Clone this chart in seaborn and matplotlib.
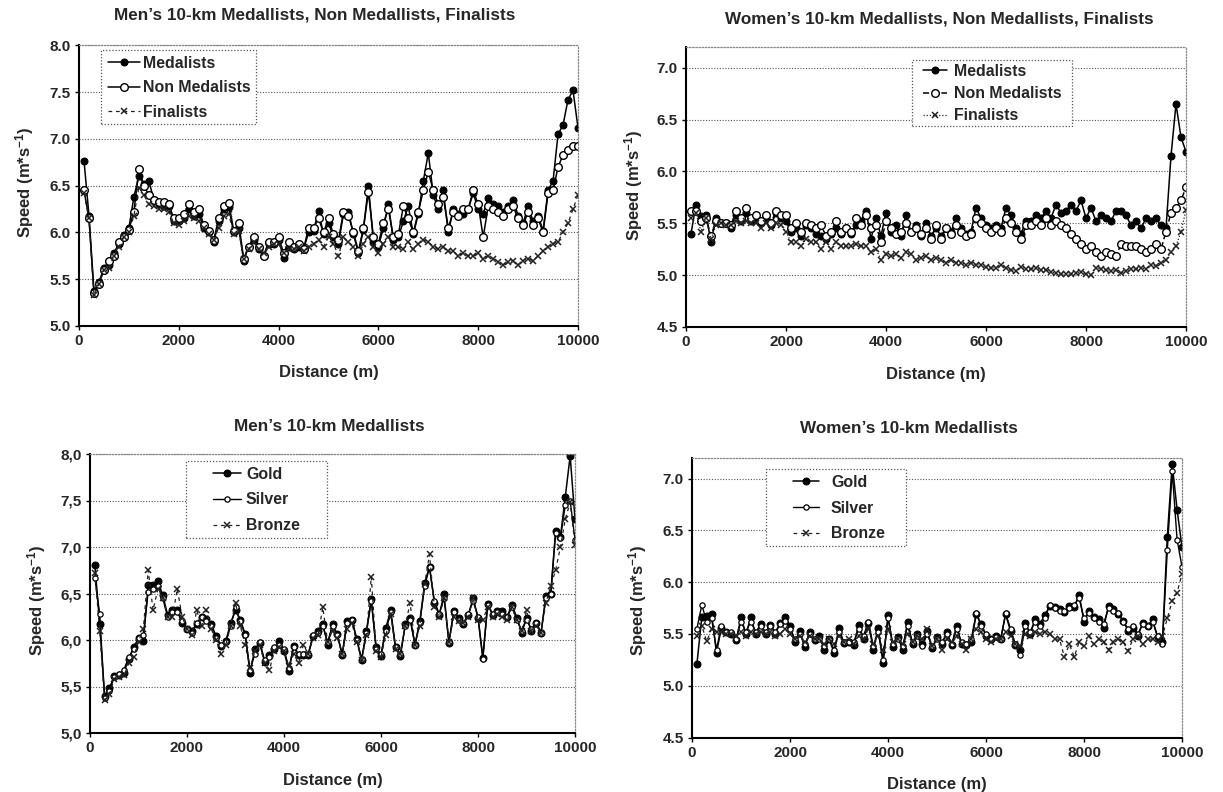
import matplotlib
matplotlib.use("Agg")
import matplotlib.pyplot as plt
from matplotlib.patches import Rectangle
import seaborn as sns

# ---------------- data ----------------
distance = list(range(100, 10001, 100))  # split distance (m)

# Men's 10 km: medallists / non medallists / finalists
men_medalists = [
    6.77, 6.18, 5.37, 5.47, 5.62, 5.65, 5.78, 5.88, 5.97, 6.05,
    6.38, 6.60, 6.52, 6.55, 6.35, 6.30, 6.28, 6.28, 6.12, 6.12,
    6.15, 6.25, 6.18, 6.20, 6.05, 6.00, 5.90, 6.12, 6.25, 6.27,
    6.00, 6.05, 5.70, 5.85, 5.92, 5.82, 5.75, 5.88, 5.88, 5.92,
    5.73, 5.85, 5.82, 5.85, 5.82, 6.00, 6.02, 6.23, 5.98, 6.10,
    5.95, 5.88, 6.20, 6.22, 5.98, 5.78, 6.03, 6.50, 5.90, 5.85,
    6.05, 6.30, 5.92, 5.95, 6.12, 6.28, 5.98, 6.20, 6.55, 6.85,
    6.40, 6.25, 6.45, 6.00, 6.25, 6.20, 6.20, 6.25, 6.42, 6.25,
    6.20, 6.37, 6.30, 6.28, 6.22, 6.28, 6.35, 6.18, 6.10, 6.28,
    6.12, 6.18, 6.02, 6.45, 6.55, 7.05, 7.15, 7.42, 7.52, 7.12]
men_non_medalists = [
    6.45, 6.15, 5.35, 5.45, 5.60, 5.70, 5.75, 5.90, 5.95, 6.03,
    6.22, 6.68, 6.50, 6.40, 6.35, 6.33, 6.33, 6.30, 6.15, 6.15,
    6.20, 6.30, 6.22, 6.25, 6.08, 6.02, 5.92, 6.15, 6.28, 6.32,
    6.02, 6.10, 5.72, 5.85, 5.95, 5.85, 5.75, 5.90, 5.90, 5.95,
    5.78, 5.90, 5.85, 5.88, 5.82, 6.05, 6.05, 6.15, 6.00, 6.15,
    5.98, 5.92, 6.22, 6.18, 6.00, 5.80, 6.05, 6.43, 5.95, 5.88,
    6.10, 6.25, 5.95, 5.98, 6.28, 6.15, 6.00, 6.22, 6.45, 6.65,
    6.45, 6.30, 6.38, 6.05, 6.22, 6.18, 6.25, 6.25, 6.45, 6.30,
    5.95, 6.28, 6.25, 6.22, 6.18, 6.25, 6.28, 6.15, 6.08, 6.22,
    6.08, 6.15, 6.00, 6.42, 6.45, 6.70, 6.83, 6.88, 6.92, 6.93]
men_finalists = [
    6.42, 6.15, 5.33, 5.45, 5.60, 5.62, 5.75, 5.85, 5.95, 6.00,
    6.18, 6.48, 6.40, 6.30, 6.28, 6.25, 6.25, 6.22, 6.10, 6.08,
    6.12, 6.18, 6.15, 6.12, 6.05, 5.98, 5.92, 6.05, 6.18, 6.20,
    5.98, 6.02, 5.72, 5.82, 5.90, 5.82, 5.78, 5.85, 5.88, 5.88,
    5.78, 5.82, 5.82, 5.85, 5.80, 5.85, 5.88, 5.92, 5.85, 5.95,
    5.88, 5.75, 5.95, 5.90, 5.85, 5.75, 5.88, 5.95, 5.85, 5.78,
    5.88, 5.95, 5.85, 5.85, 5.82, 5.90, 5.82, 5.88, 5.92, 5.90,
    5.85, 5.82, 5.85, 5.80, 5.80, 5.75, 5.78, 5.75, 5.75, 5.78,
    5.72, 5.75, 5.72, 5.68, 5.65, 5.68, 5.70, 5.65, 5.70, 5.72,
    5.70, 5.75, 5.80, 5.85, 5.88, 5.90, 6.00, 6.10, 6.25, 6.40]

# Women's 10 km: medallists / non medallists / finalists
women_medalists = [
    5.40, 5.68, 5.57, 5.58, 5.32, 5.55, 5.50, 5.50, 5.45, 5.58,
    5.52, 5.60, 5.52, 5.55, 5.50, 5.55, 5.48, 5.60, 5.55, 5.52,
    5.42, 5.45, 5.38, 5.48, 5.45, 5.40, 5.38, 5.35, 5.40, 5.45,
    5.40, 5.45, 5.40, 5.48, 5.52, 5.62, 5.35, 5.55, 5.38, 5.60,
    5.42, 5.48, 5.38, 5.58, 5.42, 5.48, 5.38, 5.50, 5.38, 5.45,
    5.38, 5.45, 5.42, 5.55, 5.45, 5.40, 5.42, 5.65, 5.55, 5.48,
    5.45, 5.48, 5.45, 5.65, 5.58, 5.45, 5.40, 5.52, 5.52, 5.58,
    5.55, 5.62, 5.55, 5.68, 5.60, 5.62, 5.68, 5.62, 5.72, 5.55,
    5.65, 5.52, 5.58, 5.55, 5.52, 5.62, 5.62, 5.58, 5.48, 5.52,
    5.45, 5.55, 5.52, 5.55, 5.48, 5.45, 6.15, 6.65, 6.33, 6.19]
women_non_medalists = [
    5.62, 5.62, 5.52, 5.55, 5.38, 5.52, 5.50, 5.50, 5.48, 5.62,
    5.55, 5.65, 5.55, 5.58, 5.52, 5.58, 5.50, 5.62, 5.58, 5.58,
    5.45, 5.50, 5.42, 5.50, 5.48, 5.45, 5.48, 5.38, 5.42, 5.52,
    5.42, 5.45, 5.42, 5.55, 5.48, 5.58, 5.45, 5.48, 5.32, 5.52,
    5.45, 5.40, 5.42, 5.50, 5.42, 5.45, 5.40, 5.45, 5.35, 5.48,
    5.35, 5.45, 5.40, 5.48, 5.42, 5.38, 5.40, 5.55, 5.50, 5.45,
    5.42, 5.45, 5.42, 5.55, 5.50, 5.42, 5.35, 5.48, 5.48, 5.52,
    5.48, 5.55, 5.48, 5.52, 5.48, 5.45, 5.40, 5.35, 5.30, 5.25,
    5.28, 5.22, 5.18, 5.22, 5.20, 5.18, 5.30, 5.28, 5.28, 5.28,
    5.25, 5.22, 5.25, 5.30, 5.25, 5.42, 5.60, 5.65, 5.72, 5.85]
women_finalists = [
    5.55, 5.60, 5.42, 5.55, 5.35, 5.48, 5.50, 5.48, 5.48, 5.52,
    5.50, 5.52, 5.50, 5.50, 5.45, 5.50, 5.45, 5.50, 5.48, 5.42,
    5.32, 5.32, 5.28, 5.35, 5.32, 5.32, 5.25, 5.32, 5.25, 5.32,
    5.28, 5.28, 5.28, 5.30, 5.28, 5.28, 5.22, 5.25, 5.15, 5.20,
    5.18, 5.20, 5.17, 5.22, 5.20, 5.15, 5.17, 5.18, 5.15, 5.17,
    5.15, 5.12, 5.15, 5.12, 5.12, 5.10, 5.12, 5.10, 5.10, 5.08,
    5.07, 5.07, 5.10, 5.07, 5.05, 5.04, 5.08, 5.06, 5.06, 5.07,
    5.05, 5.05, 5.03, 5.02, 5.01, 5.01, 5.01, 5.02, 5.03, 5.01,
    5.00, 5.07, 5.06, 5.05, 5.04, 5.05, 5.02, 5.04, 5.06, 5.06,
    5.07, 5.06, 5.10, 5.09, 5.12, 5.15, 5.22, 5.28, 5.42, 5.63]

# Men's 10 km medallists
men_gold = [
    6.81, 6.17, 5.40, 5.48, 5.61, 5.62, 5.65, 5.80, 5.92, 6.02,
    5.99, 6.59, 6.59, 6.63, 6.48, 6.27, 6.32, 6.32, 6.18, 6.12,
    6.10, 6.17, 6.25, 6.23, 6.17, 6.04, 5.94, 5.99, 6.18, 6.32,
    6.22, 6.06, 5.65, 5.90, 5.97, 5.76, 5.84, 5.90, 5.99, 5.88,
    5.67, 5.94, 5.84, 5.84, 5.84, 6.04, 6.10, 6.17, 5.95, 6.17,
    6.06, 5.84, 6.20, 6.22, 6.01, 5.78, 6.10, 6.44, 5.92, 5.83,
    6.13, 6.32, 5.92, 5.83, 6.17, 6.24, 5.95, 6.20, 6.61, 6.79,
    6.40, 6.27, 6.49, 5.97, 6.31, 6.24, 6.17, 6.27, 6.45, 6.24,
    5.81, 6.39, 6.27, 6.31, 6.31, 6.25, 6.38, 6.24, 6.08, 6.24,
    6.10, 6.18, 6.08, 6.47, 6.50, 7.17, 7.11, 7.54, 7.98, 7.30]
men_silver = [
    6.67, 6.28, 5.38, 5.45, 5.60, 5.63, 5.68, 5.82, 5.90, 6.02,
    6.05, 6.52, 6.55, 6.58, 6.45, 6.25, 6.30, 6.30, 6.20, 6.12,
    6.08, 6.18, 6.25, 6.20, 6.15, 6.02, 5.95, 5.98, 6.15, 6.35,
    6.20, 6.05, 5.68, 5.85, 5.98, 5.78, 5.82, 5.92, 5.95, 5.90,
    5.70, 5.92, 5.85, 5.85, 5.85, 6.05, 6.08, 6.15, 5.98, 6.15,
    6.05, 5.85, 6.18, 6.22, 6.00, 5.80, 6.08, 6.42, 5.90, 5.85,
    6.10, 6.30, 5.92, 5.85, 6.15, 6.22, 5.95, 6.18, 6.58, 6.78,
    6.42, 6.28, 6.45, 5.98, 6.30, 6.22, 6.18, 6.28, 6.42, 6.25,
    5.80, 6.38, 6.28, 6.30, 6.28, 6.25, 6.35, 6.22, 6.10, 6.22,
    6.12, 6.18, 6.08, 6.45, 6.50, 7.15, 7.10, 7.45, 7.50, 7.08]
men_bronze = [
    6.72, 6.10, 5.35, 5.42, 5.58, 5.60, 5.62, 5.75, 5.82, 5.98,
    6.12, 6.75, 6.32, 6.55, 6.45, 6.25, 6.25, 6.55, 6.25, 6.12,
    6.05, 6.32, 6.15, 6.32, 6.12, 6.00, 5.85, 5.95, 6.15, 6.40,
    6.15, 5.95, 5.70, 5.88, 5.95, 5.75, 5.68, 5.88, 5.92, 5.88,
    5.72, 5.85, 5.75, 5.95, 5.85, 6.02, 6.05, 6.35, 5.98, 6.10,
    6.02, 5.85, 6.12, 6.18, 5.98, 5.78, 6.05, 6.68, 5.88, 5.82,
    6.05, 6.28, 5.90, 5.85, 6.15, 6.40, 5.95, 6.15, 6.60, 6.92,
    6.35, 6.25, 6.45, 5.98, 6.25, 6.20, 6.18, 6.25, 6.45, 6.22,
    6.22, 6.35, 6.25, 6.28, 6.25, 6.22, 6.35, 6.22, 6.10, 6.32,
    6.10, 6.15, 6.08, 6.40, 6.58, 6.75, 7.00, 7.30, 7.48, 7.02]

# Women's 10 km medallists
women_gold = [
    5.21, 5.66, 5.67, 5.69, 5.32, 5.56, 5.52, 5.50, 5.44, 5.66,
    5.50, 5.66, 5.50, 5.60, 5.50, 5.59, 5.50, 5.61, 5.66, 5.58,
    5.42, 5.53, 5.37, 5.52, 5.44, 5.48, 5.35, 5.45, 5.32, 5.56,
    5.41, 5.42, 5.39, 5.59, 5.45, 5.61, 5.35, 5.56, 5.22, 5.68,
    5.37, 5.47, 5.35, 5.62, 5.40, 5.50, 5.40, 5.53, 5.36, 5.47,
    5.40, 5.52, 5.39, 5.58, 5.40, 5.39, 5.42, 5.69, 5.60, 5.48,
    5.45, 5.48, 5.45, 5.69, 5.53, 5.39, 5.35, 5.61, 5.50, 5.64,
    5.60, 5.68, 5.77, 5.76, 5.74, 5.71, 5.77, 5.76, 5.88, 5.62,
    5.72, 5.66, 5.64, 5.56, 5.77, 5.74, 5.69, 5.63, 5.53, 5.56,
    5.48, 5.61, 5.58, 5.64, 5.47, 5.42, 6.44, 7.14, 6.70, 6.34]
women_silver = [
    5.55, 5.78, 5.62, 5.65, 5.35, 5.58, 5.52, 5.52, 5.45, 5.62,
    5.52, 5.62, 5.52, 5.58, 5.52, 5.58, 5.52, 5.60, 5.63, 5.55,
    5.45, 5.50, 5.40, 5.50, 5.45, 5.45, 5.38, 5.45, 5.35, 5.52,
    5.42, 5.42, 5.42, 5.55, 5.48, 5.62, 5.38, 5.52, 5.25, 5.65,
    5.40, 5.45, 5.38, 5.58, 5.42, 5.48, 5.38, 5.50, 5.38, 5.45,
    5.42, 5.50, 5.40, 5.55, 5.42, 5.40, 5.45, 5.70, 5.58, 5.50,
    5.45, 5.47, 5.45, 5.70, 5.55, 5.40, 5.30, 5.58, 5.52, 5.62,
    5.58, 5.65, 5.78, 5.75, 5.72, 5.72, 5.75, 5.78, 5.85, 5.65,
    5.70, 5.65, 5.62, 5.60, 5.75, 5.72, 5.70, 5.62, 5.55, 5.58,
    5.50, 5.60, 5.58, 5.62, 5.48, 5.40, 6.31, 7.07, 6.41, 6.15]
women_bronze = [
    5.48, 5.58, 5.43, 5.55, 5.52, 5.52, 5.50, 5.50, 5.48, 5.52,
    5.48, 5.52, 5.50, 5.52, 5.50, 5.52, 5.48, 5.50, 5.55, 5.50,
    5.45, 5.48, 5.42, 5.48, 5.45, 5.45, 5.40, 5.45, 5.40, 5.48,
    5.42, 5.45, 5.40, 5.48, 5.45, 5.55, 5.40, 5.48, 5.35, 5.55,
    5.42, 5.45, 5.40, 5.50, 5.42, 5.48, 5.45, 5.55, 5.38, 5.45,
    5.35, 5.45, 5.42, 5.48, 5.40, 5.35, 5.45, 5.55, 5.52, 5.45,
    5.42, 5.45, 5.45, 5.52, 5.48, 5.40, 5.38, 5.50, 5.48, 5.52,
    5.50, 5.52, 5.50, 5.45, 5.45, 5.28, 5.40, 5.28, 5.42, 5.38,
    5.48, 5.40, 5.45, 5.42, 5.35, 5.42, 5.45, 5.42, 5.34, 5.45,
    5.48, 5.40, 5.45, 5.45, 5.42, 5.48, 5.65, 5.82, 5.90, 6.08]

# axis ticks and labels
x_ticks = [0, 2000, 4000, 6000, 8000, 10000]
x_tick_labels = ["0", "2000", "4000", "6000", "8000", "10000"]
men_y_ticks = [5.0, 5.5, 6.0, 6.5, 7.0, 7.5, 8.0]
men_y_labels_dot = ["5.0", "5.5", "6.0", "6.5", "7.0", "7.5", "8.0"]
men_y_labels_comma = ["5,0", "5,5", "6,0", "6,5", "7,0", "7,5", "8,0"]
women_y_ticks = [4.5, 5.0, 5.5, 6.0, 6.5, 7.0]
women_y_labels = ["4.5", "5.0", "5.5", "6.0", "6.5", "7.0"]

titles = ["Men\u2019s 10-km Medallists, Non Medallists, Finalists",
          "Women\u2019s 10-km Medallists, Non Medallists, Finalists",
          "Men\u2019s 10-km Medallists",
          "Women\u2019s 10-km Medallists"]
group_names = ["Medalists", "Non Medalists", "Finalists"]
medal_names = ["Gold", "Silver", "Bronze"]
x_label = "Distance (m)"
y_label = r"Speed (m*s$^{-1}$)"

# ---------------- style ----------------
sns.set_theme(style="white")
plt.rcParams["font.family"] = ["Liberation Sans", "DejaVu Sans"]
plt.rcParams["font.weight"] = "bold"
plt.rcParams["mathtext.fontset"] = "custom"
plt.rcParams["mathtext.rm"] = "Liberation Sans:bold"
plt.rcParams["mathtext.default"] = "rm"

TICK_FS = 11
LABEL_FS = 12
TITLE_FS = 12.3
LEGEND_FS = 11.4

W, H = 1223, 792
fig = plt.figure(figsize=(W / 100, H / 100), dpi=100)
fig.patch.set_facecolor("white")


def make_axes(left, right, top, bottom):
    ax = fig.add_axes([left / W, 1 - bottom / H, (right - left) / W, (bottom - top) / H])
    ax._px = (left, right, top, bottom)
    return ax


def px_to_axes(ax, x, y):
    left, right, top, bottom = ax._px
    return (x - left) / (right - left), (bottom - y) / (bottom - top)


def draw(ax, y, style, label, dash=None):
    kw = dict(color="black", linewidth=1.1, label=label, ax=ax, legend=False)
    if style == "filled":
        kw.update(marker="o", markersize=5, markerfacecolor="black", markeredgecolor="black")
    elif style == "open":
        kw.update(marker="o", markersize=5.5, markerfacecolor="white", markeredgecolor="black",
                  markeredgewidth=1.0)
    elif style == "small_open":
        kw.update(marker="o", markersize=3.8, markerfacecolor="white", markeredgecolor="black",
                  markeredgewidth=0.9, linewidth=1.0)
    elif style == "cross":
        kw.update(marker="x", markersize=4.2, markeredgewidth=1.1, markeredgecolor="#222222",
                  color="#222222", linewidth=0.9)
    line = sns.lineplot(x=distance, y=y, **kw).lines[-1]
    if dash is not None:
        line.set_linestyle(dash)
    return line


def finish(ax, ylim, yticks, ylabels, title, title_px, ylabel_px, xlabel_py):
    ax.set_xlim(0, 10000)
    ax.set_ylim(*ylim)
    ax.set_xticks(x_ticks)
    ax.set_xticklabels(x_tick_labels, fontsize=TICK_FS, fontweight="bold")
    ax.set_yticks(yticks)
    ax.set_yticklabels(ylabels, fontsize=TICK_FS, fontweight="bold")
    ax.tick_params(axis="both", direction="out", length=3, width=1, color="black", pad=3,
                   bottom=True, left=True)
    ax.yaxis.grid(True, linestyle=(0, (1, 1.5)), color="#555555", linewidth=0.8)
    ax.xaxis.grid(False)
    ax.set_axisbelow(True)
    for side in ("left", "bottom"):
        ax.spines[side].set_color("black")
        ax.spines[side].set_linewidth(1.5)
    for side in ("top", "right"):
        ax.spines[side].set_visible(True)
        ax.spines[side].set_color("#888888")
        ax.spines[side].set_linewidth(0.9)
        ax.spines[side].set_linestyle((0, (1, 1.5)))
    ax.set_xlabel(x_label, fontsize=LABEL_FS, fontweight="bold", va="center")
    ax.set_ylabel(y_label, fontsize=LABEL_FS, fontweight="bold", va="center")
    left, right, top, bottom = ax._px
    ax.xaxis.set_label_coords(0.5, px_to_axes(ax, 0, xlabel_py)[1])
    ax.yaxis.set_label_coords(px_to_axes(ax, ylabel_px[0], 0)[0], px_to_axes(ax, 0, ylabel_px[1])[1])
    tx, ty = px_to_axes(ax, *title_px)
    ax.set_title(title, fontsize=TITLE_FS, fontweight="bold", x=tx, y=ty, pad=0, va="center")


def add_legend(ax, handles, box, first_row, handle_px, text_gap_px, row_px):
    fs_px = LEGEND_FS / 72 * 100
    x0, y0, x1, y1 = box
    bx, by = px_to_axes(ax, x0, y1)
    bw = (x1 - x0) / (ax._px[1] - ax._px[0])
    bh = (y1 - y0) / (ax._px[3] - ax._px[2])
    ax.add_patch(Rectangle((bx, by), bw, bh, transform=ax.transAxes, facecolor="white",
                           edgecolor="#555555", linewidth=0.9, linestyle=(0, (1, 1.5)),
                           zorder=4.5, clip_on=False))
    row_h = 0.94 * fs_px
    ax_x, ax_y = px_to_axes(ax, handle_px[0], first_row - row_h / 2)
    leg = ax.legend(handles=handles, labels=[h.get_label() for h in handles], loc="upper left",
                    bbox_to_anchor=(ax_x, ax_y), frameon=False,
                    prop={"weight": "bold", "size": LEGEND_FS},
                    handlelength=(handle_px[1] - handle_px[0]) / fs_px,
                    handletextpad=text_gap_px / fs_px,
                    labelspacing=(row_px - row_h) / fs_px,
                    borderpad=0, borderaxespad=0)
    leg.set_zorder(5)
    return leg


# ---------------- panel 1: men, groups ----------------
ax1 = make_axes(79, 578, 45.5, 326)
h1 = draw(ax1, men_medalists, "filled", group_names[0])
h2 = draw(ax1, men_non_medalists, "open", group_names[1])
h3 = draw(ax1, men_finalists, "cross", group_names[2], dash=(0, (3, 3)))
finish(ax1, (5.0, 8.0), men_y_ticks, men_y_labels_dot, titles[0], (314.6, 15.5), (24.5, 182), 373)
add_legend(ax1, [h1, h2, h3], (101, 50.5, 256, 123.8), 63.2, (108, 140), 3, 24.3)

# ---------------- panel 2: women, groups ----------------
ax2 = make_axes(686, 1186, 47, 327)
h1 = draw(ax2, women_medalists, "filled", group_names[0])
h2 = draw(ax2, women_non_medalists, "open", group_names[1], dash=(0, (4, 2)))
h3 = draw(ax2, women_finalists, "cross", group_names[2], dash=(0, (1, 1.5)))
finish(ax2, (4.5, 7.2), women_y_ticks, women_y_labels, titles[1], (939, 19), (633.5, 185), 374)
add_legend(ax2, [h1, h2, h3], (911.7, 59.7, 1071.6, 125.7), 71.3, (922.8, 947), 7, 22.2)

# ---------------- panel 3: men, medallists ----------------
ax3 = make_axes(90, 575, 454, 733)
h1 = draw(ax3, men_gold, "filled", medal_names[0])
h2 = draw(ax3, men_silver, "small_open", medal_names[1])
h3 = draw(ax3, men_bronze, "cross", medal_names[2], dash=(0, (3, 3)))
finish(ax3, (5.0, 8.0), men_y_ticks, men_y_labels_comma, titles[2], (329, 426.7), (36.3, 600), 780)
add_legend(ax3, [h1, h2, h3], (186, 461, 327, 538), 474, (212.7, 241.4), 4.6, 25.8)

# ---------------- panel 4: women, medallists ----------------
ax4 = make_axes(692, 1182, 458, 737.5)
h1 = draw(ax4, women_gold, "filled", medal_names[0])
h2 = draw(ax4, women_silver, "small_open", medal_names[1])
h3 = draw(ax4, women_bronze, "cross", medal_names[2], dash=(0, (3, 3)))
finish(ax4, (4.5, 7.2), women_y_ticks, women_y_labels, titles[3], (909, 428), (638, 600.4), 784)
add_legend(ax4, [h1, h2, h3], (766, 469, 905.6, 545.6), 482.3, (793, 819), 12, 25.6)

fig.savefig("out.png", dpi=100, facecolor="white")
